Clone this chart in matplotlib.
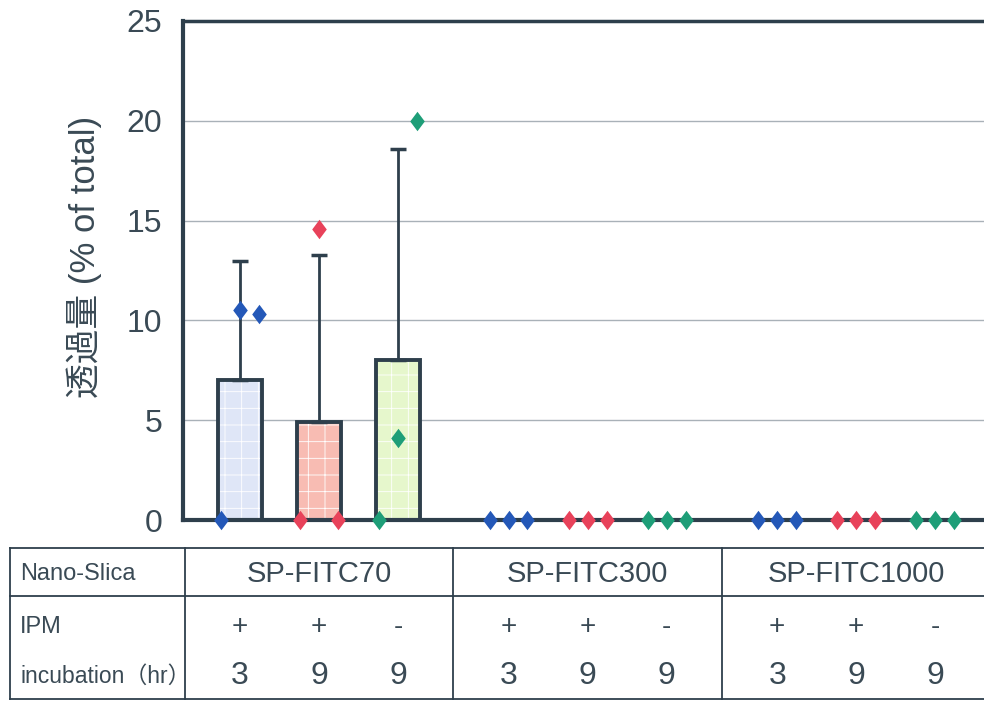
import matplotlib
matplotlib.use("Agg")
import matplotlib.pyplot as plt
import matplotlib.transforms as mtransforms
from matplotlib.path import Path

# data
groups = ["SP-FITC70", "SP-FITC300", "SP-FITC1000"]
ipm = ["+", "+", "-"]
incubation = ["3", "9", "9"]
row_labels = ["Nano-Slica", "IPM", "incubation\uff08hr\uff09"]

# mean and upper error (only SP-FITC70 has visible bars)
bar_means = [[7.0, 4.9, 8.0], [0, 0, 0], [0, 0, 0]]
bar_err = [[6.0, 8.4, 10.6], [0, 0, 0], [0, 0, 0]]
# individual points (3 per condition)
points = [
    [[0.0, 10.5, 10.3], [0.0, 14.6, 0.0], [0.0, 4.1, 20.0]],
    [[0, 0, 0], [0, 0, 0], [0, 0, 0]],
    [[0, 0, 0], [0, 0, 0], [0, 0, 0]],
]

fill_colors = ["#dfe6f7", "#f8bcb3", "#e6f7cc"]
mark_colors = ["#2458b8", "#e8425a", "#1e9e78"]
dark = "#2e3f4c"
txt = "#3a4a55"

plt.rcParams["hatch.linewidth"] = 0.6

diamond = Path([(0, 1), (0.75, 0), (0, -1), (-0.75, 0), (0, 1)],
               [Path.MOVETO, Path.LINETO, Path.LINETO, Path.LINETO, Path.CLOSEPOLY])

fig = plt.figure(figsize=(9.84, 7.01), dpi=100)
ax = fig.add_axes([183 / 984, 181 / 701, (1000 - 183) / 984, 499 / 701])

gap = 3.4
for g in range(3):
    for b in range(3):
        x = g * gap + b
        m = bar_means[g][b]
        if m > 0:
            ax.bar(x, m, width=0.56, color=fill_colors[b], edgecolor="white",
                   hatch="+", linewidth=0, zorder=2)
            ax.bar(x, m, width=0.56, facecolor="none", edgecolor=dark,
                   linewidth=2.8, zorder=3)
            ax.errorbar(x, m, yerr=[[0], [bar_err[g][b]]], fmt="none",
                        ecolor=dark, elinewidth=2, capsize=6, capthick=2.5, zorder=3)
        for k, v in enumerate(points[g][b]):
            ax.plot(x + (k - 1) * 0.24, v, marker=diamond, markersize=14,
                    color=mark_colors[b], markeredgewidth=0, clip_on=False, zorder=5)

ax.set_xlim(-0.72, (1000 - 240) / 79)
ax.set_ylim(0, 25)
ax.set_yticks([0, 5, 10, 15, 20, 25])
ax.set_xticks([])
ax.grid(axis="y", color="#a9b1b8", linewidth=1)
ax.set_axisbelow(True)
ax.tick_params(axis="y", length=0, pad=15, labelsize=23, labelcolor=txt)
for lab in ax.get_yticklabels():
    lab.set_family("Liberation Sans")
ax.spines["right"].set_visible(False)
ax.spines["left"].set_linewidth(3)
ax.spines["top"].set_linewidth(2.5)
ax.spines["bottom"].set_linewidth(3)
for s in ["left", "top", "bottom"]:
    ax.spines[s].set_color(dark)
ax.set_ylabel("透過量 (% of total)", fontsize=25, color=txt,
              family=["Liberation Sans", "Noto Sans CJK JP"])
ax.yaxis.set_label_coords(-0.099, 0.527)

# table under the axis
tr = mtransforms.blended_transform_factory(ax.transData, fig.transFigure)
ftr = fig.transFigure
y_top, y_mid, y_bot = 1 - 548 / 701, 1 - 596 / 701, 1 - 699 / 701
lw = 1.3
for yy in (y_top, y_mid, y_bot):
    fig.add_artist(plt.Line2D([10 / 984, 1], [yy, yy], color=dark, lw=lw, transform=ftr))
fig.add_artist(plt.Line2D([10 / 984, 10 / 984], [y_top, y_bot], color=dark, lw=lw, transform=ftr))
for g in range(3):
    xb = g * gap - 0.7
    fig.add_artist(plt.Line2D([xb, xb], [y_top, y_bot], color=dark, lw=lw, transform=tr))

y_r1 = 1 - 574 / 701
y_r2 = 1 - 627 / 701
y_r3 = 1 - 676 / 701
tfont = ["Liberation Sans", "Noto Sans CJK JP"]
fig.text(20 / 984, y_r1, row_labels[0], fontsize=17, color=txt, va="center", family=tfont)
fig.text(20 / 984, y_r2, row_labels[1], fontsize=17, color=txt, va="center", family=tfont)
fig.text(20 / 984, y_r3, row_labels[2], fontsize=16.5, color=txt, va="center", family=tfont)
for g in range(3):
    ax.text(g * gap + 1, y_r1, groups[g], transform=tr, fontsize=21, color=txt,
            ha="center", va="center", family=tfont)
    for b in range(3):
        x = g * gap + b
        ax.text(x, y_r2, ipm[b], transform=tr, fontsize=20, color=txt,
                ha="center", va="center", family=tfont)
        ax.text(x, y_r3, incubation[b], transform=tr, fontsize=23, color=txt,
                ha="center", va="center", family=tfont)

fig.savefig("out.png", dpi=100)
